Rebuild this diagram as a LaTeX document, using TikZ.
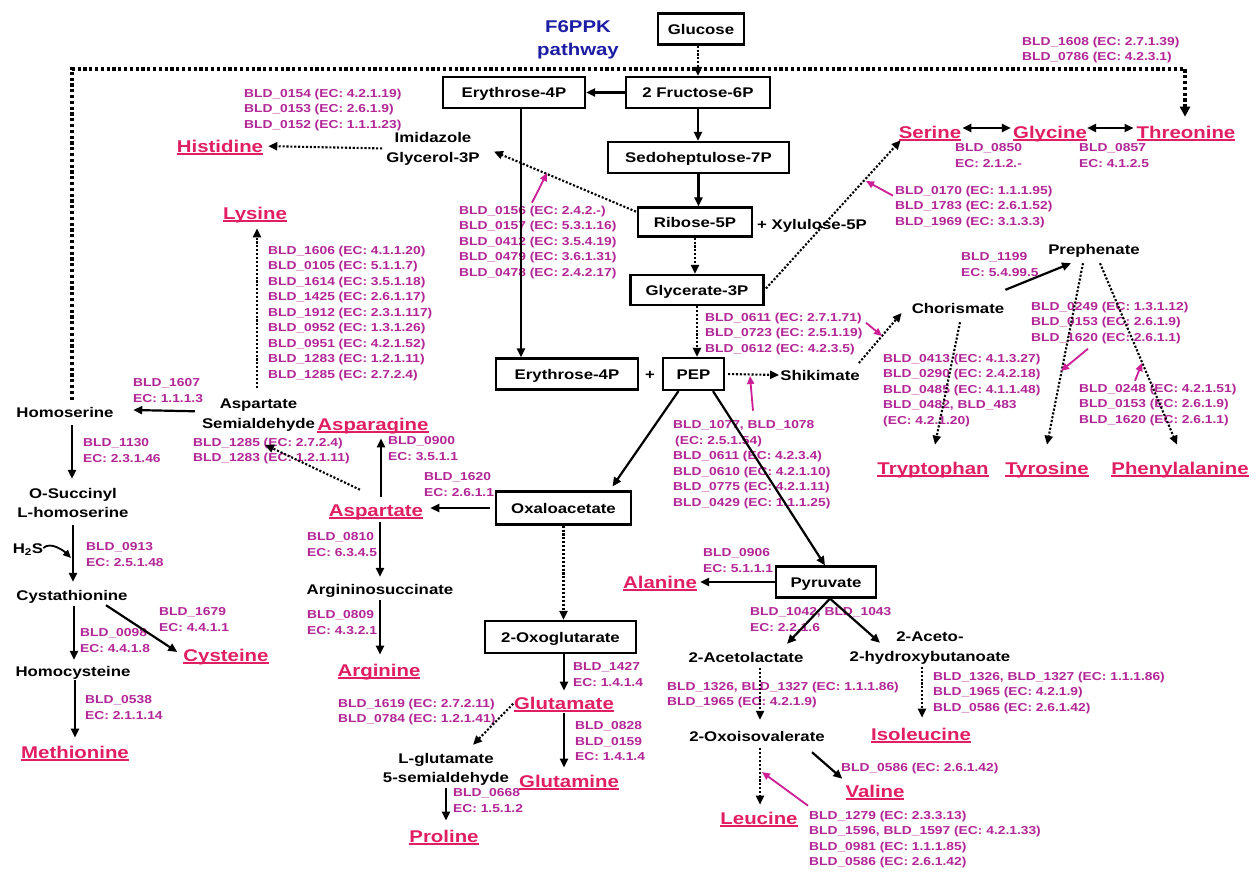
\documentclass[tikz,border=0pt]{standalone}
\usepackage{fontspec}
\setmainfont{Liberation Sans}[FakeStretch=1.2]
\usetikzlibrary{arrows.meta,calc}
\definecolor{genec}{RGB}{178,38,150}
\definecolor{acidc}{RGB}{226,30,98}
\definecolor{enzc}{RGB}{205,30,150}
\definecolor{pathc}{RGB}{28,28,165}
% underlined amino-acid name
\newcommand\amino[1]{\setbox0=\hbox{#1}\dimen0=\wd0\relax\box0\kern-\dimen0\vrule height -0.8pt depth 2.8pt width \dimen0\relax}
\tikzset{
  lbl/.style={inner sep=0pt, font=\fontsize{14}{20}\selectfont\bfseries, text height=10pt, text depth=0pt},
  lbltwo/.style={inner sep=0pt, anchor=north, align=center, font=\fontsize{14}{20}\selectfont\bfseries},
  pbox/.style={lbl, draw, line width=2.2pt},
  gene/.style={inner sep=0pt, anchor=north west, align=left, text=genec, font=\fontsize{11.5}{15.5}\selectfont\bfseries},
  acid/.style={inner sep=0pt, text=acidc, font=\fontsize{17}{20}\selectfont\bfseries, text height=12.2pt, text depth=0pt},
  sol/.style={-{Triangle[length=9pt,width=8pt]}, line width=2.2pt},
  dbl/.style={{Triangle[length=9pt,width=8pt]}-{Triangle[length=9pt,width=8pt]}, line width=2.2pt},
  dotarr/.style={-{Triangle[length=9pt,width=8pt]}, line width=2.1pt, dash pattern=on 2.1pt off 1.8pt},
  bigdot/.style={-{Triangle[length=10pt,width=10pt]}, line width=3.2pt, dash pattern=on 3.2pt off 2.6pt},
  enz/.style={-{Triangle[length=8pt,width=7pt]}, draw=enzc, line width=1.8pt},
}
\begin{document}
\begin{tikzpicture}[x=1pt,y=-1pt]
\fill[white] (0,0) rectangle (1258,871);
\useasboundingbox (0,0) rectangle (1258,871);

% ---------------- central carbon metabolism ----------------
\node[inner sep=0pt, anchor=north, align=center, text=pathc, font=\fontsize{17}{23}\selectfont\bfseries] (f6ppk) at (578,20) {F6PPK\\pathway};
\node[pbox, minimum width=86pt, minimum height=31pt] (glc) at (701,29) {Glucose};
\node[pbox, minimum width=144pt, minimum height=31pt] (f6p) at (698,92.5) {2 Fructose-6P};
\node[pbox, minimum width=142pt, minimum height=31pt] (e4pa) at (514,92.5) {Erythrose-4P};
\node[pbox, minimum width=181pt, minimum height=31pt] (s7p) at (698.5,157.5) {Sedoheptulose-7P};
\node[pbox, minimum width=114pt, minimum height=29pt] (r5p) at (695,222) {Ribose-5P};
\node[lbl, anchor=west] (xyl) at (757,224) {+ Xylulose-5P};
\node[pbox, minimum width=133pt, minimum height=30pt] (g3p) at (697,290) {Glycerate-3P};
\node[pbox, minimum width=142pt, minimum height=31pt] (e4pb) at (567,374) {Erythrose-4P};
\node[lbl] (plus) at (650,374) {+};
\node[pbox, minimum width=61pt, minimum height=32pt] (pep) at (693.5,374) {PEP};
\node[pbox, minimum width=135pt, minimum height=33pt] (oaa) at (563.5,508) {Oxaloacetate};
\node[pbox, minimum width=100pt, minimum height=31pt] (pyr) at (826,582) {Pyruvate};
\node[pbox, minimum width=151pt, minimum height=32pt] (oxg) at (560.5,637) {2-Oxoglutarate};

% ---------------- intermediates ----------------
\node[lbl] (shik) at (820,375) {Shikimate};
\node[lbl] (chor) at (958,308) {Chorismate};
\node[lbl] (preph) at (1094,249) {Prephenate};
\node[lbltwo] (imid) at (433,131.8) {Imidazole\\Glycerol-3P};
\node[lbl] (homoser) at (65,412) {Homoserine};
\node[lbltwo, font=\fontsize{14}{19}\selectfont\bfseries] (osuc) at (73,487.8) {O-Succinyl\\L-homoserine};
\node[lbl] (h2s) at (28,548) {H\textsubscript{2}S};
\node[lbl] (cysta) at (72,595) {Cystathionine};
\node[lbl] (homocys) at (73,671) {Homocysteine};
\node[lbltwo] (aspsa) at (258.5,398.8) {Aspartate\\Semialdehyde};
\node[lbl] (argsuc) at (380,589) {Argininosuccinate};
\node[lbltwo, font=\fontsize{14}{19}\selectfont\bfseries] (lglu) at (446,752.8) {L-glutamate\\5-semialdehyde};
\node[lbl] (acetol) at (746,657) {2-Acetolactate};
\node[lbltwo] (aceto) at (930,631.8) {2-Aceto-\\2-hydroxybutanoate};
\node[lbl] (oxiv) at (757,736) {2-Oxoisovalerate};

% ---------------- amino acids ----------------
\node[acid] (his) at (220,146) {\amino{Histidine}};
\node[acid] (lys) at (255,213) {\amino{Lysine}};
\node[acid] (ser) at (930,132) {\amino{Serine}};
\node[acid] (gly) at (1050,132) {\amino{Glycine}};
\node[acid] (thr) at (1186,132) {\amino{Threonine}};
\node[acid] (trp) at (933,468) {\amino{Tryptophan}};
\node[acid] (tyr) at (1047,468) {\amino{Tyrosine}};
\node[acid] (phe) at (1180,468) {\amino{Phenylalanine}};
\node[acid] (asn) at (373,424) {\amino{Asparagine}};
\node[acid] (asp) at (376,510) {\amino{Aspartate}};
\node[acid] (arg) at (379,670) {\amino{Arginine}};
\node[acid] (ala) at (660,582) {\amino{Alanine}};
\node[acid] (glu) at (564,703) {\amino{Glutamate}};
\node[acid] (gln) at (569,781) {\amino{Glutamine}};
\node[acid] (pro) at (444,836) {\amino{Proline}};
\node[acid] (cys) at (226,655) {\amino{Cysteine}};
\node[acid] (met) at (75,752) {\amino{Methionine}};
\node[acid] (ile) at (921,734) {\amino{Isoleucine}};
\node[acid] (val) at (875,791) {\amino{Valine}};
\node[acid] (leu) at (759,818) {\amino{Leucine}};

% ---------------- enzyme annotations ----------------
\node[gene] (g_his) at (244,88.7) {BLD\_0154 (EC: 4.2.1.19)\\BLD\_0153 (EC: 2.6.1.9)\\BLD\_0152 (EC: 1.1.1.23)};
\node[gene] (g_thr) at (1022,36.7) {BLD\_1608 (EC: 2.7.1.39)\\BLD\_0786 (EC: 4.2.3.1)};
\node[gene] (g_r5p) at (459,205.7) {BLD\_0156 (EC: 2.4.2.-)\\BLD\_0157 (EC: 5.3.1.16)\\BLD\_0412 (EC: 3.5.4.19)\\BLD\_0479 (EC: 3.6.1.31)\\BLD\_0478 (EC: 2.4.2.17)};
\node[gene] (g_ser1) at (955,143.7) {BLD\_0850\\EC: 2.1.2.-};
\node[gene] (g_gly) at (1079,143.7) {BLD\_0857\\EC: 4.1.2.5};
\node[gene] (g_ser2) at (895,185.7) {BLD\_0170 (EC: 1.1.1.95)\\BLD\_1783 (EC: 2.6.1.52)\\BLD\_1969 (EC: 3.1.3.3)};
\node[gene] (g_lys) at (268,245.7) {BLD\_1606 (EC: 4.1.1.20)\\BLD\_0105 (EC: 5.1.1.7)\\BLD\_1614 (EC: 3.5.1.18)\\BLD\_1425 (EC: 2.6.1.17)\\BLD\_1912 (EC: 2.3.1.117)\\BLD\_0952 (EC: 1.3.1.26)\\BLD\_0951 (EC: 4.2.1.52)\\BLD\_1283 (EC: 1.2.1.11)\\BLD\_1285 (EC: 2.7.2.4)};
\node[gene] (g_preph) at (961,252.7) {BLD\_1199\\EC: 5.4.99.5};
\node[gene] (g_shik1) at (705,312.7) {BLD\_0611 (EC: 2.7.1.71)\\BLD\_0723 (EC: 2.5.1.19)\\BLD\_0612 (EC: 4.2.3.5)};
\node[gene] (g_tyr) at (1031,301.7) {BLD\_0249 (EC: 1.3.1.12)\\BLD\_0153 (EC: 2.6.1.9)\\BLD\_1620 (EC: 2.6.1.1)};
\node[gene] (g_trp) at (883,353.7) {BLD\_0413 (EC: 4.1.3.27)\\BLD\_0290 (EC: 2.4.2.18)\\BLD\_0485 (EC: 4.1.1.48)\\BLD\_0482, BLD\_483\\(EC: 4.2.1.20)};
\node[gene] (g_phe) at (1079,383.7) {BLD\_0248 (EC: 4.2.1.51)\\BLD\_0153 (EC: 2.6.1.9)\\BLD\_1620 (EC: 2.6.1.1)};
\node[gene] (g_shik2) at (673,420.7) {BLD\_1077, BLD\_1078\\\hspace{2pt}(EC: 2.5.1.54)\\BLD\_0611 (EC: 4.2.3.4)\\BLD\_0610 (EC: 4.2.1.10)\\BLD\_0775 (EC: 4.2.1.11)\\BLD\_0429 (EC: 1.1.1.25)};
\node[gene] (g_hom) at (133,378.7) {BLD\_1607\\EC: 1.1.1.3};
\node[gene] (g_aspsa) at (193,437.7) {BLD\_1285 (EC: 2.7.2.4)\\BLD\_1283 (EC: 1.2.1.11)};
\node[gene] (g_asn) at (388,436.7) {BLD\_0900\\EC: 3.5.1.1};
\node[gene] (g_asp) at (424,472.7) {BLD\_1620\\EC: 2.6.1.1};
\node[gene] (g_osuc) at (83,438.7) {BLD\_1130\\EC: 2.3.1.46};
\node[gene] (g_cysta) at (86,542.7) {BLD\_0913\\EC: 2.5.1.48};
\node[gene] (g_argsuc) at (307,532.7) {BLD\_0810\\EC: 6.3.4.5};
\node[gene] (g_ala) at (703,548.7) {BLD\_0906\\EC: 5.1.1.1};
\node[gene] (g_arg) at (307,610.7) {BLD\_0809\\EC: 4.3.2.1};
\node[gene] (g_cys) at (159,607.7) {BLD\_1679\\EC: 4.4.1.1};
\node[gene] (g_hcy) at (80,628.7) {BLD\_0098\\EC: 4.4.1.8};
\node[gene] (g_met) at (85,695.7) {BLD\_0538\\EC: 2.1.1.14};
\node[gene] (g_glu) at (573,662.7) {BLD\_1427\\EC: 1.4.1.4};
\node[gene] (g_gln) at (575,721.7) {BLD\_0828\\BLD\_0159\\EC: 1.4.1.4};
\node[gene] (g_lglu) at (338,698.7) {BLD\_1619 (EC: 2.7.2.11)\\BLD\_0784 (EC: 1.2.1.41)};
\node[gene] (g_pro) at (453,788.7) {BLD\_0668\\EC: 1.5.1.2};
\node[gene] (g_acetol) at (750,607.7) {BLD\_1042, BLD\_1043\\EC: 2.2.1.6};
\node[gene] (g_oxiv) at (667,681.7) {BLD\_1326, BLD\_1327 (EC: 1.1.1.86)\\BLD\_1965 (EC: 4.2.1.9)};
\node[gene] (g_ile) at (933,671.7) {BLD\_1326, BLD\_1327 (EC: 1.1.1.86)\\BLD\_1965 (EC: 4.2.1.9)\\BLD\_0586 (EC: 2.6.1.42)};
\node[gene] (g_val) at (841,762.7) {BLD\_0586 (EC: 2.6.1.42)};
\node[gene] (g_leu) at (809,810.7) {BLD\_1279 (EC: 2.3.3.13)\\BLD\_1596, BLD\_1597 (EC: 4.2.1.33)\\BLD\_0981 (EC: 1.1.1.85)\\BLD\_0586 (EC: 2.6.1.42)};

% ---------------- helper coordinates ----------------
\coordinate (fa) at (72,69);
\coordinate (fb) at (1185,69);
\coordinate (e4pline) at (521,0);
\coordinate (lysline) at (257,0);
\coordinate (asnline) at (381,0);
\coordinate (leuline) at (760,0);
\coordinate (ileline) at (922,0);
\coordinate (cysline) at (74,0);
\coordinate (metline) at (75,0);
\coordinate (h2send) at (71,558);
\coordinate (m_r5p) at (547,173);
\coordinate (m_ser) at (866,181);
\coordinate (m_chor) at (882,336);
\coordinate (m_shik) at (750,376);
\coordinate (m_tyr) at (1061,371);
\coordinate (m_phe) at (1142,363);
\coordinate (m_leu) at (762,772);

% ---------------- connectors ----------------
\draw[bigdot, shorten <=7pt, shorten >=9pt] (homoser.north -| fa) -- (fa) -- (fb) -- (thr.north -| fb);

\draw[dotarr] (f6p.north |- glc.south) -- (f6p.north);
\draw[sol] (f6p.west) -- (e4pa.east);
\draw[sol] (f6p.south) -- (f6p.south |- s7p.north);
\draw[sol] (s7p.south) -- (s7p.south |- r5p.north);
\draw[dotarr] (r5p.south) -- (r5p.south |- g3p.north);
\draw[sol] (e4pa.south -| e4pline) -- (e4pb.north -| e4pline);
\draw[dotarr] (g3p.south) -- (g3p.south |- pep.north);
\draw[dotarr, shorten <=3pt, shorten >=1pt] (pep.east) -- (shik.west);
\draw[dotarr] ($(shik.east)+(-1,-12)$) -- ($(chor.west)+(-10,5)$);
\draw[dotarr] ($(chor.south)+(2,9)$) -- ($(trp.north)+(2,-17)$);
\draw[sol] ($(chor.north east)+(1,-13)$) -- ($(preph.south)+(-23,9)$);
\draw[dotarr] ($(preph.south)+(-11,9)$) -- ($(tyr.north)+(0,-17)$);
\draw[dotarr] ($(preph.south)+(6,9)$) -- ($(phe.north)+(-3,-17)$);
\draw[dotarr, shorten <=2pt] (g3p.east) -- ($(ser.south west)+(2,2)$);
\draw[dotarr, shorten <=1pt] ($(r5p.west)+(0,-10)$) -- ($(imid.east)+(14,3)$);
\draw[dotarr, shorten <=4pt, shorten >=5pt] (imid.west) -- (his.east);
\draw[dbl, shorten <=1pt, shorten >=2pt] ($(ser.east)+(0,-4)$) -- ($(gly.west)+(0,-4)$);
\draw[dbl, shorten >=3pt] ($(gly.east)+(0,-4)$) -- ($(thr.west)+(0,-4)$);

\draw[sol] ($(pep.south)+(-15,0)$) -- ($(oaa.north)+(49,-4)$);
\draw[sol] ($(pep.south)+(19.5,0)$) -- ($(pyr.north)+(-1,0)$);
\draw[sol, shorten >=3pt] (pyr.west) -- (ala.east);
\draw[sol, shorten <=5pt, shorten >=7pt] (oaa.west) -- (oaa.west -| asp.east);
\draw[dotarr] (oaa.south) -- (oaa.south |- oxg.north);
\draw[sol, shorten >=6pt] (glu.north |- oxg.south) -- (glu.north);
\draw[sol, shorten <=4pt, shorten >=7pt] (glu.south) -- (glu.south |- gln.north);
\draw[dotarr, shorten <=1pt] (glu.west) -- ($(lglu.north)+(27,-8)$);
\draw[sol, shorten <=3pt, shorten >=9pt] (lglu.south) -- (lglu.south |- pro.north);

\draw[sol, shorten <=7pt, shorten >=8pt] (asp.north -| asnline) -- (asn.south -| asnline);
\draw[dotarr] ($(asp.north)+(-16,-14)$) -- ($(aspsa.south)+(6.5,13)$);
\draw[dotarr, shorten <=11pt, shorten >=9pt] (aspsa.north -| lysline) -- (lys.south -| lysline);
\draw[sol] ($(aspsa.west)+(-7,-4)$) -- ($(homoser.east)+(19.5,-2)$);
\draw[sol, shorten <=6pt, shorten >=7pt] (asp.south -| argsuc.north) -- (argsuc.north);
\draw[sol, shorten <=6pt, shorten >=9pt] (argsuc.south) -- (argsuc.south |- arg.north);

\draw[sol, shorten <=8pt, shorten >=9pt] (homoser.south -| fa) -- (osuc.north -| fa);
\draw[sol, shorten <=8pt, shorten >=8pt] (osuc.south) -- (osuc.south |- cysta.north);
\draw[-{Triangle[length=8pt,width=7pt]}, line width=1.8pt] (h2s.east) .. controls +(7,-7) and +(-7,-7) .. (h2send);
\draw[sol, shorten <=6pt, shorten >=6pt] (cysta.south -| cysline) -- (homocys.north -| cysline);
\draw[sol] ($(cysta.south)+(34,5)$) -- ($(cys.west)+(-6,-3)$);
\draw[sol, shorten <=4pt, shorten >=8pt] (homocys.south -| metline) -- (met.north -| metline);

\draw[sol] ($(pyr.south)+(4,0)$) -- ($(acetol.north)+(41,-8)$);
\draw[sol] ($(pyr.south)+(4,0)$) -- ($(aceto.north)+(-50,11)$);
\draw[dotarr, shorten <=6pt, shorten >=11pt] (acetol.south -| leuline) -- (oxiv.north -| leuline);
\draw[dotarr, shorten <=7pt, shorten >=7pt] (oxiv.south -| leuline) -- (leu.north -| leuline);
\draw[sol] ($(oxiv.south)+(55,11)$) -- ($(val.north west)+(-3,-6)$);
\draw[dotarr, shorten <=2pt, shorten >=10pt] (aceto.south -| ileline) -- (ile.north -| ileline);

% enzyme pointers
\draw[enz] ($(g_r5p.north west)+(73,-3)$) -- (m_r5p);
\draw[enz] ($(g_ser2.north west)+(-2,10)$) -- (m_ser);
\draw[enz] ($(g_shik1.north west)+(161,10)$) -- (m_chor);
\draw[enz] ($(g_shik2.north west)+(80,-10)$) -- (m_shik);
\draw[enz] ($(g_tyr.north west)+(57,47)$) -- (m_tyr);
\draw[enz] ($(g_phe.north west)+(56,-3)$) -- (m_phe);
\draw[enz] ($(g_leu.north west)+(-1,-5)$) -- (m_leu);
\end{tikzpicture}
\end{document}
